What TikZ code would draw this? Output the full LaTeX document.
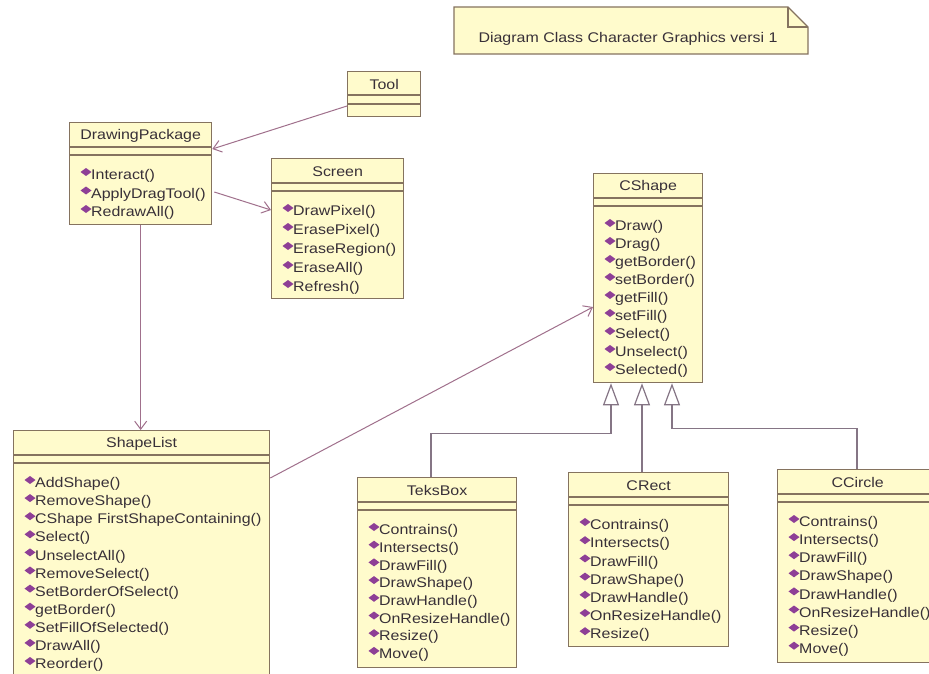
\documentclass[tikz,border=0pt]{standalone}
\usepackage{fontspec}
\newfontfamily\umlfont[FakeStretch=1.14]{Liberation Sans}
\usetikzlibrary{arrows.meta,calc}
\definecolor{boxfill}{HTML}{FFFBCC}
\definecolor{boxline}{HTML}{85735F}
\definecolor{assoc}{HTML}{A0708C}
\definecolor{genline}{HTML}{857585}
\definecolor{opcol}{HTML}{8E3F96}
\definecolor{txt}{HTML}{383038}
\tikzset{
  classbox/.style={draw=boxline, fill=boxfill, line width=1.3pt, inner sep=0pt, rectangle},
  sepline/.style={draw=boxline, line width=1.3pt},
  titletext/.style={font=\umlfont\fontsize{14}{16}\selectfont, text=txt, inner sep=0pt},
  optext/.style={font=\umlfont\fontsize{14}{16}\selectfont, text=txt, inner sep=0pt, anchor=west},
  assocarrow/.style={draw=assoc, line width=1pt, -{Straight Barb[length=8pt,width=12pt]}},
  genarrow/.style={draw=genline, line width=1.2pt, -{Triangle[open,length=22pt,width=16pt,fill=white]}},
  notebox/.style={draw=boxline, fill=boxfill, line width=1.3pt},
}
\newcommand\umlclass[8]{%
  \node[classbox, minimum width=#4pt, minimum height=#5pt, anchor=north west] (#1) at (#2,#3) {};
  \draw[sepline] ($(#1.north west)+(0,25)$) -- ($(#1.north east)+(0,25)$);
  \draw[sepline] ($(#1.north west)+(0,33)$) -- ($(#1.north east)+(0,33)$);
  \node[titletext] (#1-title) at ($(#1.north)+(0,13.5)$) {#6};
  \foreach \m [count=\i] in {#8} {
    \pgfmathsetmacro\yy{54+(\i-1)*#7}
    \fill[opcol] ($(#1.north west)+(17,\yy-4)$) +(-5.5,0) -- +(0,-4) -- +(5.5,0) -- +(0,4) -- cycle;
    \node[optext] (#1-op\i) at ($(#1.north west)+(22,\yy)$) {\m};
  }
}
\begin{document}
\begin{tikzpicture}[x=1pt,y=-1pt]
\useasboundingbox (0,0) rectangle (929,674);
\clip (0,0) rectangle (929,674);
\fill[white] (0,0) rectangle (929,674);

% note
\filldraw[notebox] (454,7) -- (788,7) -- (808,27) -- (808,54) -- (454,54) -- cycle;
\draw[sepline] (788,7) -- (788,27) -- (808,27);
\node[titletext] (note) at (628,39) {Diagram Class Character Graphics versi 1};

% Tool
\node[classbox, minimum width=73pt, minimum height=45pt, anchor=north west] (tool) at (347,71) {};
\draw[sepline] ($(tool.north west)+(0,24)$) -- ($(tool.north east)+(0,24)$);
\draw[sepline] ($(tool.north west)+(0,33)$) -- ($(tool.north east)+(0,33)$);
\node[titletext] (tool-title) at ($(tool.north)+(0,13)$) {Tool};

\umlclass{dp}{69}{122}{142}{102}{DrawingPackage}{18.5}{Interact(),ApplyDragTool(),RedrawAll()}
\umlclass{screen}{271}{158}{132}{140}{Screen}{19}{DrawPixel(),ErasePixel(),EraseRegion(),EraseAll(),Refresh()}
\umlclass{cshape}{593}{173}{109}{209}{CShape}{18}{Draw(),Drag(),getBorder(),setBorder(),getFill(),setFill(),Select(),Unselect(),Selected()}
\umlclass{shapelist}{13}{430}{256}{260}{ShapeList}{18.1}{AddShape(),RemoveShape(),CShape FirstShapeContaining(),Select(),UnselectAll(),RemoveSelect(),SetBorderOfSelect(),getBorder(),SetFillOfSelected(),DrawAll(),Reorder()}
\umlclass{teksbox}{357}{477}{159}{190}{TeksBox}{17.7}{Contrains(),Intersects(),DrawFill(),DrawShape(),DrawHandle(),OnResizeHandle(),Resize(),Move()}
\umlclass{crect}{568}{472}{160}{174}{CRect}{18.2}{Contrains(),Intersects(),DrawFill(),DrawShape(),DrawHandle(),OnResizeHandle(),Resize()}
\umlclass{ccircle}{777}{469}{160}{193}{CCircle}{18.1}{Contrains(),Intersects(),DrawFill(),DrawShape(),DrawHandle(),OnResizeHandle(),Resize(),Move()}

% associations
\draw[assocarrow] ($(tool.north west)+(0,35)$) -- ($(dp.north east)+(0,27)$);
\draw[assocarrow] ($(dp.north east)+(2,70)$) -- ($(screen.north west)+(0,52)$);
\draw[assocarrow] (dp.south) -- (dp.south |- shapelist.north);
\draw[assocarrow] ($(shapelist.north east)+(0,48)$) -- ($(cshape.north west)+(0,134)$);

% generalisations
\draw[genarrow] ($(teksbox.north west)+(74,0)$) |- ($(cshape.south west)+(18,50)$) -- ($(cshape.south west)+(18,0)$);
\draw[genarrow] ($(crect.north west)+(74,0)$) -- ($(cshape.south west)+(49,0)$);
\draw[genarrow] ($(ccircle.north west)+(80,0)$) |- ($(cshape.south west)+(79,45)$) -- ($(cshape.south west)+(79,0)$);
\end{tikzpicture}
\end{document}
